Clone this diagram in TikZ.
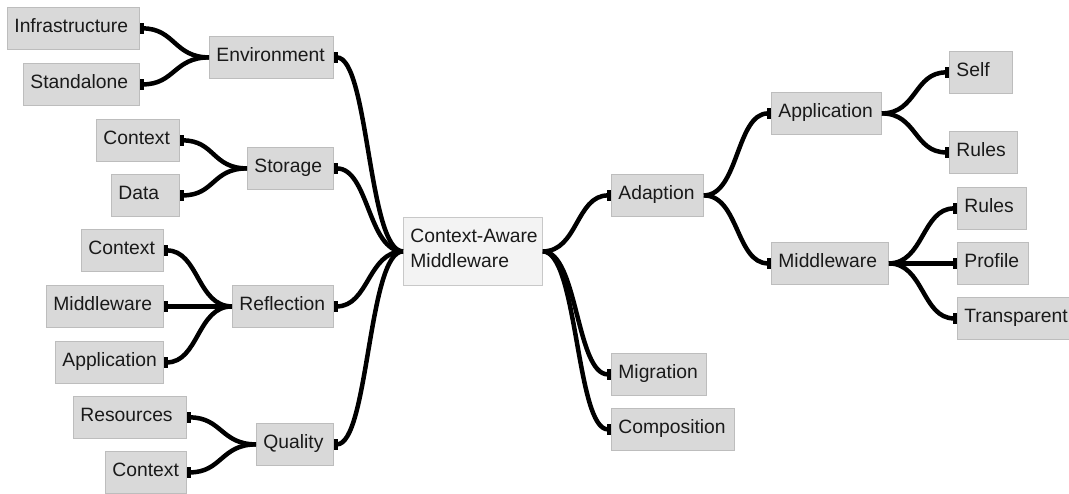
\documentclass[tikz,border=0pt]{standalone}
\usepackage{fontspec}
\setmainfont{Liberation Sans}
\usetikzlibrary{arrows.meta}
\definecolor{boxfill}{HTML}{D9D9D9}
\definecolor{boxline}{HTML}{BDBDBD}
\definecolor{cfill}{HTML}{F3F3F3}
\definecolor{cline}{HTML}{C8C8C8}
\definecolor{txt}{HTML}{1A1A1A}
\begin{document}
\begin{tikzpicture}[x=1pt,y=-1pt,
  base/.style={anchor=north west, inner xsep=7pt, inner ysep=0pt, align=left, text=txt,
    font=\fontsize{19.3}{25}\selectfont, line width=0.8pt},
  bx/.style={base, draw=boxline, fill=boxfill, text height=14pt, text depth=5pt, minimum height=42pt},
  cbx/.style={base, draw=cline, fill=cfill, text height=13.5pt, text depth=31.5pt, minimum height=68pt},
  conn/.style={line width=4.5pt, -{Rectangle[length=4pt,width=11pt]}}
]
\useasboundingbox (0,0) rectangle (1069,493);
% left side
\node[bx, text width=118pt] (infra) at (7,7) {Infrastructure};
\node[bx, text width=102pt] (stand) at (23,63) {Standalone};
\node[bx, text width=110pt] (env) at (209,36) {Environment};
\node[bx, text width=69pt] (ctxs) at (96,119) {Context};
\node[bx, text width=54pt] (data) at (111,174) {Data};
\node[bx, text width=72pt] (stor) at (247,147) {Storage};
\node[bx, text width=68pt] (ctxr) at (81,229) {Context};
\node[bx, text width=103pt] (mwr) at (46,285) {Middleware};
\node[bx, text width=94pt] (appr) at (55,341) {Application};
\node[bx, text width=87pt] (refl) at (232,285) {Reflection};
\node[bx, text width=99pt] (res) at (73,396) {Resources};
\node[bx, text width=67pt] (ctxq) at (105,451) {Context};
\node[bx, text width=63pt] (qual) at (256,423) {Quality};
% centre
\node[cbx, text width=125pt] (center) at (403,217) {\mbox{Context-Aware}\\Middleware};
% right side
\node[bx, text width=78pt] (adap) at (611,174) {Adaption};
\node[bx, text width=81pt] (migr) at (611,353) {Migration};
\node[bx, text width=109pt] (comp) at (611,408) {Composition};
\node[bx, text width=96pt] (appa) at (771,92) {Application};
\node[bx, text width=103pt] (mwa) at (771,242) {Middleware};
\node[bx, text width=49pt] (self) at (949,51) {Self};
\node[bx, text width=54pt] (rulesa) at (949,131) {Rules};
\node[bx, text width=55pt] (rulesm) at (957,187) {Rules};
\node[bx, text width=57pt] (prof) at (957,242) {Profile};
\node[bx, text width=104pt] (trans) at (957,297) {Transparent};
% connectors, left
\draw[conn] (env.west) .. controls +(-35,0) and +(35,0) .. (infra.east);
\draw[conn] (env.west) .. controls +(-35,0) and +(35,0) .. (stand.east);
\draw[conn] (stor.west) .. controls +(-35,0) and +(35,0) .. (ctxs.east);
\draw[conn] (stor.west) .. controls +(-35,0) and +(35,0) .. (data.east);
\draw[conn] (refl.west) .. controls +(-35,0) and +(35,0) .. (ctxr.east);
\draw[conn] (refl.west) -- (mwr.east);
\draw[conn] (refl.west) .. controls +(-35,0) and +(35,0) .. (appr.east);
\draw[conn] (qual.west) .. controls +(-35,0) and +(35,0) .. (res.east);
\draw[conn] (qual.west) .. controls +(-35,0) and +(35,0) .. (ctxq.east);
% centre
\draw[conn] (center.west) .. controls +(-35,0) and +(35,0) .. (env.east);
\draw[conn] (center.west) .. controls +(-35,0) and +(35,0) .. (stor.east);
\draw[conn] (center.west) .. controls +(-35,0) and +(35,0) .. (refl.east);
\draw[conn] (center.west) .. controls +(-35,0) and +(35,0) .. (qual.east);
\draw[conn] (center.east) .. controls +(35,0) and +(-35,0) .. (adap.west);
\draw[conn] (center.east) .. controls +(35,0) and +(-35,0) .. (migr.west);
\draw[conn] (center.east) .. controls +(35,0) and +(-35,0) .. (comp.west);
% right
\draw[conn] (adap.east) .. controls +(35,0) and +(-35,0) .. (appa.west);
\draw[conn] (adap.east) .. controls +(35,0) and +(-35,0) .. (mwa.west);
\draw[conn] (appa.east) .. controls +(35,0) and +(-35,0) .. (self.west);
\draw[conn] (appa.east) .. controls +(35,0) and +(-35,0) .. (rulesa.west);
\draw[conn] (mwa.east) .. controls +(35,0) and +(-35,0) .. (rulesm.west);
\draw[conn] (mwa.east) -- (prof.west);
\draw[conn] (mwa.east) .. controls +(35,0) and +(-35,0) .. (trans.west);
\end{tikzpicture}
\end{document}
